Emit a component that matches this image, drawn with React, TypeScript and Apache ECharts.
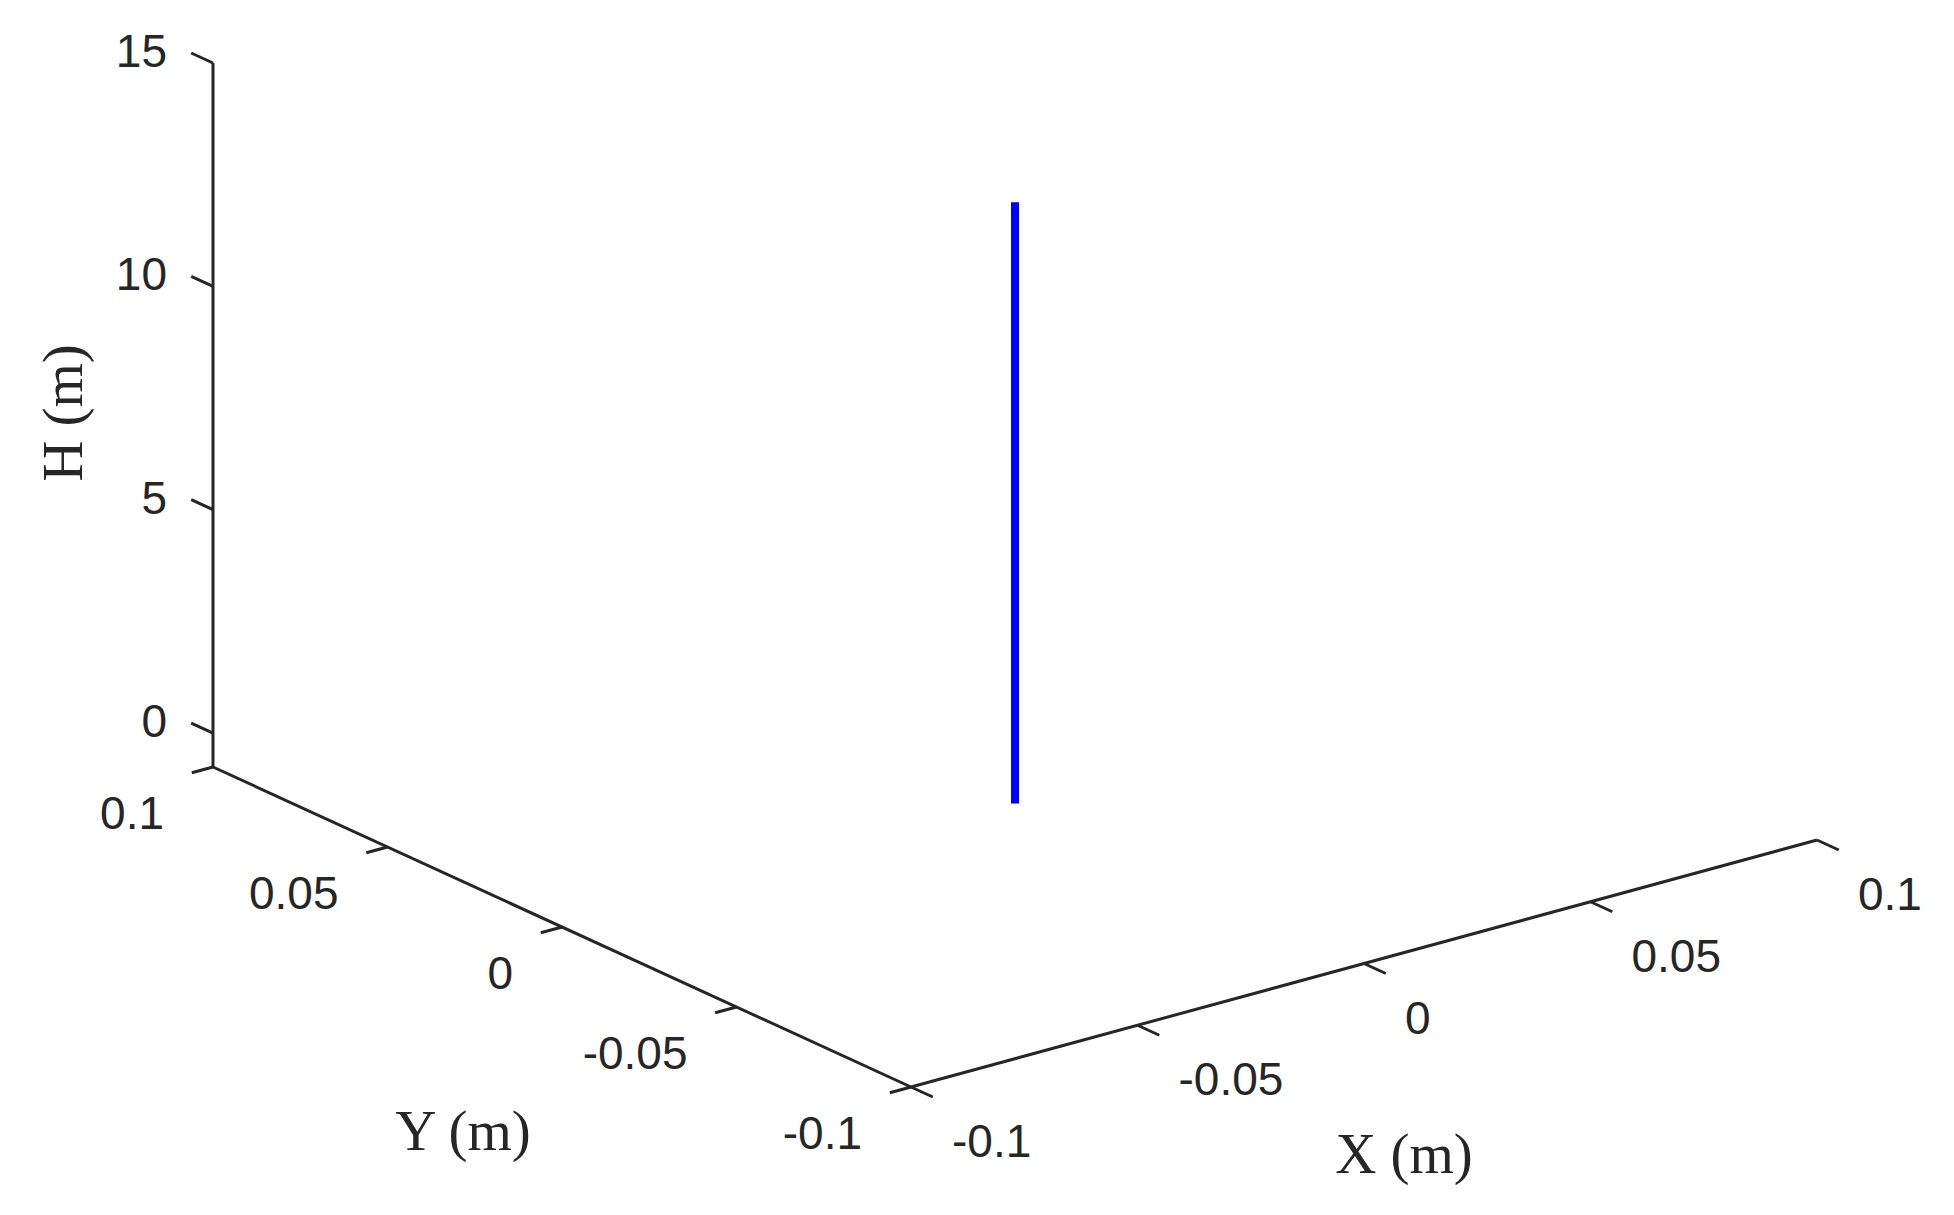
import React, { useEffect, useRef } from "react";
import * as echarts from "echarts";

// ---- data ----
const xTicks = [-0.1, -0.05, 0, 0.05, 0.1];
const yTicks = [0.1, 0.05, 0, -0.05, -0.1];
const hTicks = [0, 5, 10, 15];
const xRange = [-0.1, 0.1];
const yRange = [-0.1, 0.1];
const hRange = [-0.76, 15];
const lineX = [0, 0];
const lineY = [0, 0];
const lineH = [-0.76, 12.7];

// ---- view / layout (orthographic projection of the 3-D box) ----
const W = 1954;
const HT = 1215;
const ORIGIN = [911, 1087]; // screen of (xmin, ymin, hmin)
const EX = [906, -247]; // screen vector spanning the full x range
const EY = [-698, -320]; // screen vector spanning the full y range
const EZ = [0, -704]; // screen vector spanning the full h range
const AXIS_COLOR = "#262626";
const TICK_FONT = '46px "Liberation Sans", Arial, sans-serif';
const LABEL_FONT = '57px "Liberation Serif", "Times New Roman", serif';

function project(x: number, y: number, h: number): number[] {
  const u = (x - xRange[0]) / (xRange[1] - xRange[0]);
  const v = (y - yRange[0]) / (yRange[1] - yRange[0]);
  const w = (h - hRange[0]) / (hRange[1] - hRange[0]);
  return [
    ORIGIN[0] + u * EX[0] + v * EY[0] + w * EZ[0],
    ORIGIN[1] + u * EX[1] + v * EY[1] + w * EZ[1],
  ];
}
function unit(vec: number[], s: number): number[] {
  const l = Math.hypot(vec[0], vec[1]);
  return [(vec[0] / l) * s, (vec[1] / l) * s];
}
const fmt = (v: number) => String(v);

export default function App() {
  const ref = useRef<HTMLDivElement>(null);
  useEffect(() => {
    if (!ref.current) return;
    const chart = echarts.init(ref.current, undefined, { renderer: "svg" });

    const seg = (api: any, a: number[], b: number[], lw = 3) => {
      const p = api.coord(a);
      const q = api.coord(b);
      return {
        type: "line",
        shape: { x1: p[0], y1: p[1], x2: q[0], y2: q[1] },
        style: { stroke: AXIS_COLOR, lineWidth: lw },
      };
    };
    const label = (p: number[], text: string, align: string) => ({
      type: "text",
      x: p[0],
      y: p[1],
      style: {
        text,
        fill: AXIS_COLOR,
        font: TICK_FONT,
        align,
        verticalAlign: "middle",
      },
    });

    const tickSeries = (
      name: string,
      values: number[],
      pos: (v: number) => number[],
      dir: number[],
      off: number[],
      align: string
    ) => ({
      type: "custom",
      name,
      coordinateSystem: "cartesian2d",
      data: values.map((v) => [v]),
      renderItem: (params: any, api: any) => {
        const v = api.value(0);
        const a = pos(v);
        const p = api.coord(a);
        return {
          type: "group",
          children: [
            {
              type: "line",
              shape: { x1: p[0], y1: p[1], x2: p[0] + dir[0], y2: p[1] + dir[1] },
              style: { stroke: AXIS_COLOR, lineWidth: 3 },
            },
            label([p[0] + off[0], p[1] + off[1]], fmt(v), align),
          ],
        };
      },
    });

    chart.setOption({
      animation: false,
      backgroundColor: "#ffffff",
      grid: { left: 0, right: 0, top: 0, bottom: 0 },
      xAxis: { type: "value", min: 0, max: W, show: false },
      yAxis: { type: "value", min: 0, max: HT, inverse: true, show: false },
      series: [
        {
          type: "custom",
          name: "axes",
          coordinateSystem: "cartesian2d",
          data: [[0]],
          renderItem: (params: any, api: any) => ({
            type: "group",
            children: [
              seg(api, project(xRange[0], yRange[0], hRange[0]), project(xRange[1], yRange[0], hRange[0])),
              seg(api, project(xRange[0], yRange[1], hRange[0]), project(xRange[0], yRange[0], hRange[0])),
              seg(api, project(xRange[0], yRange[1], hRange[0]), project(xRange[0], yRange[1], hRange[1])),
            ],
          }),
        },
        tickSeries(
          "xTicks",
          xTicks,
          (v) => project(v, yRange[0], hRange[0]),
          unit([-EY[0], -EY[1]], 24),
          [41, 54],
          "left"
        ),
        tickSeries(
          "yTicks",
          yTicks,
          (v) => project(xRange[0], v, hRange[0]),
          unit([-EX[0], -EX[1]], 22),
          [-49, 46],
          "right"
        ),
        tickSeries(
          "hTicks",
          hTicks,
          (v) => project(xRange[0], yRange[1], v),
          unit([EY[0], EY[1]], 24),
          [-46, -12],
          "right"
        ),
        {
          type: "line",
          name: "H",
          data: lineH.map((h, i) => project(lineX[i], lineY[i], h)),
          showSymbol: false,
          symbol: "none",
          lineStyle: { color: "#0000ff", width: 8, cap: "butt" },
          z: 5,
        },
      ],
      graphic: [
        {
          type: "text",
          x: 1404,
          y: 1153,
          style: { text: "X (m)", font: LABEL_FONT, fill: AXIS_COLOR, align: "center", verticalAlign: "middle" },
        },
        {
          type: "text",
          x: 463,
          y: 1130,
          style: { text: "Y (m)", font: LABEL_FONT, fill: AXIS_COLOR, align: "center", verticalAlign: "middle" },
        },
        {
          type: "text",
          x: 62,
          y: 413,
          rotation: Math.PI / 2,
          style: { text: "H (m)", font: LABEL_FONT, fill: AXIS_COLOR, align: "center", verticalAlign: "middle" },
        },
      ],
    });
    return () => chart.dispose();
  }, []);
  return (
    <div
      ref={ref}
      style={{ position: "fixed", left: 0, top: 0, width: W, height: HT, background: "#fff" }}
    />
  );
}
